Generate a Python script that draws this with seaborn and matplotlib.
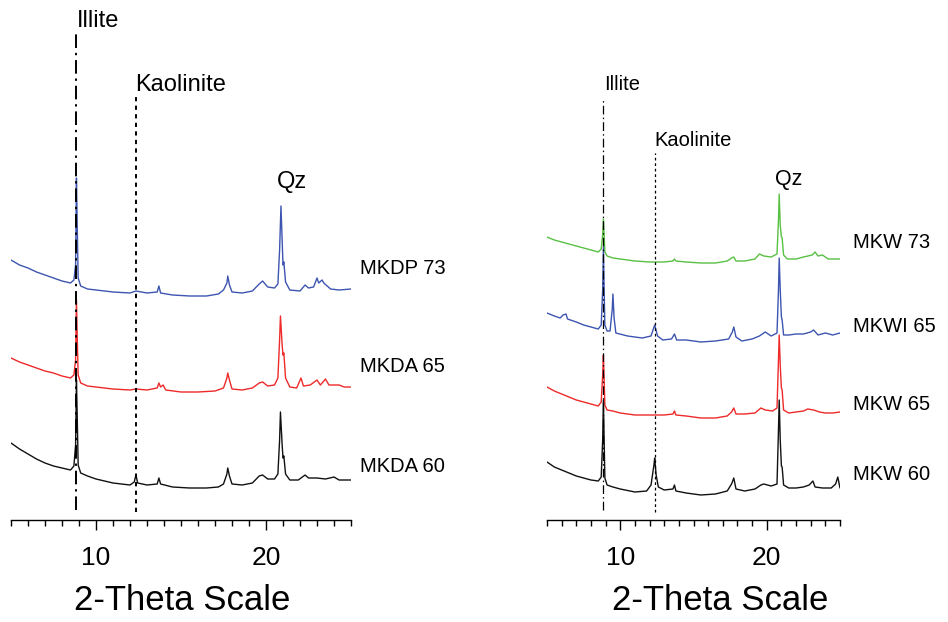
import numpy as np
import pandas as pd
import matplotlib
matplotlib.use("Agg")
import matplotlib.pyplot as plt
from matplotlib.ticker import MultipleLocator, FixedLocator
import seaborn as sns

# ---------------- diffraction data (2-theta in degrees, intensity in counts) ----------------
# Left set: MKDP 73, MKDA 65, MKDA 60
mkdp73_2t = [5.0, 5.5, 6.0, 6.5, 7.0, 7.5, 8.0, 8.5, 8.7, 8.8, 8.85, 8.9, 8.95, 9.1, 9.5, 10.0,
             11.0, 12.0, 12.35, 13.0, 13.6, 13.7, 13.8, 14.5, 15.5, 16.5, 17.2, 17.5, 17.7, 17.75,
             17.85, 18.0, 18.6, 19.2, 19.6, 19.8, 20.1, 20.5, 20.7, 20.8, 20.88, 20.95, 21.0, 21.05,
             21.15, 21.4, 22.0, 22.3, 22.5, 22.8, 23.0, 23.1, 23.3, 23.4, 23.8, 24.3, 25.0]
mkdp73_int = [70, 65, 62, 58, 55, 52, 49, 47, 50, 65, 152, 100, 52, 44, 41, 40,
              38, 37, 39, 37, 38, 44, 37, 35, 34, 34, 36, 40, 47, 54,
              45, 38, 37, 39, 46, 49, 43, 42, 46, 80, 124, 90, 65, 68,
              48, 40, 39, 45, 42, 43, 52, 47, 50, 47, 41, 40, 41]

mkda65_2t = [5.0, 5.5, 6.0, 6.5, 7.0, 7.5, 8.0, 8.5, 8.7, 8.8, 8.85, 8.9, 8.95, 9.1, 9.5, 10.0,
             11.0, 12.0, 12.35, 13.0, 13.6, 13.7, 13.8, 13.95, 14.1, 15.0, 16.0, 17.0, 17.5, 17.7,
             17.75, 17.85, 18.0, 18.6, 19.2, 19.6, 19.8, 20.1, 20.5, 20.7, 20.8, 20.85, 20.95, 21.0,
             21.05, 21.15, 21.4, 21.8, 22.06, 22.2, 22.6, 23.0, 23.2, 23.5, 23.7, 24.3, 24.6, 25.0]
mkda65_int = [67, 63, 60, 57, 54, 52, 49, 47, 50, 65, 125, 85, 50, 42, 39, 38,
              36, 35, 36, 35, 37, 42, 38, 40, 35, 33, 33, 34, 37, 47,
              52, 45, 36, 35, 37, 42, 43, 39, 40, 47, 85, 109, 80, 70,
              72, 47, 38, 37, 47, 39, 40, 45, 40, 46, 40, 40, 38, 38]

mkda60_2t = [5.0, 5.5, 6.0, 6.5, 7.0, 7.5, 8.0, 8.5, 8.7, 8.8, 8.85, 8.9, 8.95, 9.1, 9.5, 10.0,
             11.0, 12.0, 12.25, 12.35, 12.45, 13.0, 13.6, 13.7, 13.8, 14.5, 15.5, 16.5, 17.2, 17.5,
             17.7, 17.75, 17.85, 18.0, 18.6, 19.2, 19.6, 19.8, 20.1, 20.5, 20.7, 20.8, 20.85, 20.95,
             21.0, 21.05, 21.15, 21.4, 21.9, 22.3, 22.5, 23.0, 23.5, 24.0, 24.3, 25.0]
mkda60_int = [77, 71, 66, 61, 57, 54, 52, 50, 54, 75, 140, 100, 55, 47, 44, 41,
              37, 35, 38, 45, 37, 35, 36, 42, 36, 33, 32, 32, 33, 36,
              46, 52, 44, 36, 35, 37, 44, 45, 41, 41, 46, 80, 108, 75,
              62, 64, 46, 40, 40, 45, 42, 42, 41, 43, 40, 40]

# Right set: MKW 73, MKWI 65, MKW 65, MKW 60
mkw73_2t = [5.0, 5.5, 6.0, 6.5, 7.0, 7.5, 8.0, 8.5, 8.7, 8.8, 8.85, 8.9, 8.95, 9.1, 9.5, 10.0,
            11.0, 12.0, 12.35, 13.0, 13.6, 13.7, 13.8, 14.5, 15.5, 16.5, 17.3, 17.6, 17.75, 17.9,
            18.5, 19.2, 19.5, 19.8, 20.3, 20.7, 20.8, 20.85, 20.92, 21.0, 21.05, 21.15, 21.4, 22.0,
            22.5, 22.8, 23.1, 23.3, 23.5, 23.8, 24.2, 25.0]
mkw73_int = [53, 50, 48, 46, 44, 42, 40, 38, 41, 55, 71, 55, 38, 34, 32, 31,
             29, 28, 28, 28, 29, 31, 29, 28, 27, 27, 29, 32, 33, 29,
             29, 31, 36, 34, 33, 36, 70, 96, 65, 53, 52, 35, 31, 31,
             33, 34, 35, 38, 34, 35, 31, 31]

mkwi65_2t = [5.0, 5.5, 5.9, 6.1, 6.3, 6.4, 7.0, 7.5, 8.0, 8.5, 8.7, 8.8, 8.85, 8.9, 8.95, 9.1,
             9.3, 9.45, 9.5, 9.58, 9.7, 10.5, 11.5, 12.1, 12.35, 12.55, 12.9, 13.5, 13.7, 13.85,
             14.5, 15.5, 16.5, 17.4, 17.65, 17.75, 17.9, 18.3, 19.0, 19.5, 19.9, 20.3, 20.7, 20.8,
             20.85, 20.92, 21.0, 21.05, 21.15, 21.5, 22.0, 22.5, 23.0, 23.2, 23.5, 24.0, 24.5, 25.0]
mkwi65_int = [52, 49, 47, 50, 51, 46, 43, 40, 38, 36, 40, 75, 118, 75, 40, 34,
              34, 55, 71, 47, 32, 29, 27, 29, 40, 29, 25, 26, 31, 25,
              25, 23, 24, 26, 33, 38, 28, 24, 26, 29, 33, 29, 32, 75,
              107, 75, 48, 45, 30, 30, 31, 31, 33, 35, 30, 32, 30, 32]

mkw65_2t = [5.0, 5.5, 6.0, 6.5, 7.0, 7.5, 8.0, 8.5, 8.7, 8.8, 8.85, 8.9, 8.95, 9.1, 9.5, 10.0,
            11.0, 12.0, 12.35, 13.0, 13.6, 13.7, 13.8, 14.5, 15.5, 16.5, 17.3, 17.6, 17.75, 17.9,
            18.5, 19.2, 19.6, 19.9, 20.4, 20.7, 20.8, 20.85, 20.92, 21.0, 21.05, 21.15, 21.5, 22.0,
            22.5, 22.8, 23.2, 23.6, 24.0, 24.5, 25.0]
mkw65_int = [58, 54, 51, 48, 45, 43, 41, 39, 43, 70, 90, 65, 40, 35, 34, 32,
             30, 30, 30, 30, 31, 34, 30, 29, 27, 27, 29, 33, 37, 31,
             31, 32, 37, 35, 34, 37, 85, 110, 80, 57, 55, 35, 32, 33,
             34, 36, 35, 33, 32, 32, 33]

mkw60_2t = [5.0, 5.5, 6.0, 6.5, 7.0, 7.5, 8.0, 8.5, 8.7, 8.8, 8.85, 8.9, 8.95, 9.1, 9.5, 10.0,
            11.0, 11.8, 12.1, 12.3, 12.35, 12.45, 12.6, 13.0, 13.6, 13.7, 13.8, 14.5, 15.5, 16.5,
            17.3, 17.6, 17.75, 17.9, 18.5, 19.2, 19.6, 19.8, 20.3, 20.7, 20.8, 20.85, 20.92, 21.0,
            21.05, 21.15, 21.5, 22.0, 22.5, 22.9, 23.15, 23.3, 23.8, 24.4, 24.7, 24.85, 25.0]
mkw60_int = [58, 53, 50, 47, 44, 42, 40, 39, 43, 80, 120, 80, 42, 35, 33, 31,
             28, 29, 35, 55, 62, 45, 33, 30, 31, 35, 29, 27, 25, 26,
             29, 36, 42, 31, 29, 31, 35, 36, 34, 36, 90, 120, 80, 54,
             53, 35, 32, 32, 33, 35, 39, 33, 32, 32, 36, 43, 32]

left_names = ["MKDP 73", "MKDA 65", "MKDA 60"]
right_names = ["MKW 73", "MKWI 65", "MKW 65", "MKW 60"]

# reflection positions (2-theta)
illite_pos = 8.85
kaolinite_pos = 12.35
quartz_pos = 20.85

# ---------------- styling ----------------
BLUE = "#3d55b0"
RED = "#ee2a2a"
GREEN = "#58c142"
BLACK = "#111111"

sns.set_theme(style="white")
plt.rcParams["font.family"] = ["Liberation Sans", "DejaVu Sans"]

fig = plt.figure(figsize=(9.48, 6.22), dpi=100)
W, H = 948.0, 622.0
ax_l = fig.add_axes([11 / W, 102 / H, 340 / W, 520 / H])
ax_r = fig.add_axes([547 / W, 102 / H, 293 / W, 520 / H])

# (name, 2theta, counts, colour, stacking offset, height of the name label)
left_series = [
    (left_names[0], mkdp73_2t, mkdp73_int, BLUE, 190, 252),
    (left_names[1], mkda65_2t, mkda65_int, RED, 95, 153),
    (left_names[2], mkda60_2t, mkda60_int, BLACK, 0, 53),
]
right_series = [
    (right_names[0], mkw73_2t, mkw73_int, GREEN, 230, 277),
    (right_names[1], mkwi65_2t, mkwi65_int, BLUE, 155, 194),
    (right_names[2], mkw65_2t, mkw65_int, RED, 75, 116),
    (right_names[3], mkw60_2t, mkw60_int, BLACK, 0, 45),
]


def draw_panel(ax, series, label_dx, name_size, lw, line_w, illite_top, kaol_top,
               illite_lbl, kaol_lbl, qz_lbl, min_size, qz_size, xlabel_x):
    # stack the patterns with vertical offsets
    for name, tt, cnt, color, off, lbl_y in series:
        df = pd.DataFrame({"2theta": tt, "counts": np.asarray(cnt, float) + off})
        sns.lineplot(data=df, x="2theta", y="counts", ax=ax, color=color, lw=lw,
                     estimator=None, sort=True, zorder=2)
        ax.annotate(name, xy=(25, lbl_y), xytext=(label_dx, 0),
                    textcoords="offset points", ha="left", va="center",
                    fontsize=name_size, color="black", annotation_clip=False)

    # reference lines for the clay minerals
    ax.plot([illite_pos, illite_pos], [10, illite_top], color="black", lw=line_w,
            dashes=(7, 2.5, 1.2, 2.5), zorder=3)
    ax.plot([kaolinite_pos, kaolinite_pos], [8, kaol_top], color="black", lw=line_w,
            dashes=(2.2, 2.2), zorder=3)
    ax.text(illite_pos + 0.05, illite_lbl, "Illite", ha="left", va="center",
            fontsize=min_size, color="black")
    ax.text(kaolinite_pos - 0.05, kaol_lbl, "Kaolinite", ha="left", va="center",
            fontsize=min_size, color="black")
    ax.text(quartz_pos + 0.65, qz_lbl, "Qz", ha="center", va="center",
            fontsize=qz_size, color="black")

    ax.set_xlim(5, 25)
    ax.set_ylim(0, 520)
    for s in ["top", "right", "left"]:
        ax.spines[s].set_visible(False)
    ax.spines["bottom"].set_color("black")
    ax.spines["bottom"].set_linewidth(1.0)
    ax.set_yticks([])
    ax.xaxis.set_major_locator(FixedLocator([10, 20]))
    ax.xaxis.set_minor_locator(MultipleLocator(1))
    ax.tick_params(axis="x", which="major", direction="out", length=7, width=1,
                   color="black", labelcolor="black", labelsize=19, pad=12, bottom=True)
    ax.tick_params(axis="x", which="minor", direction="out", length=4, width=1,
                   color="black", bottom=True)
    ax.set_xlabel("2-Theta Scale", fontsize=25, color="black")
    ax.xaxis.set_label_coords(xlabel_x, -0.124)
    ax.set_ylabel("")
    ax.grid(False)
    ax.set_facecolor("none")


draw_panel(ax_l, left_series, label_dx=6.5, name_size=14.5, lw=1.0, line_w=1.4,
           illite_top=487, kaol_top=423, illite_lbl=499, kaol_lbl=435, qz_lbl=338,
           min_size=17, qz_size=17, xlabel_x=0.503)
draw_panel(ax_r, right_series, label_dx=9.5, name_size=14.5, lw=1.0, line_w=0.9,
           illite_top=422, kaol_top=367, illite_lbl=435, kaol_lbl=380, qz_lbl=341,
           min_size=14.5, qz_size=15.5, xlabel_x=0.59)

fig.savefig("out.png", dpi=100, facecolor="white")
